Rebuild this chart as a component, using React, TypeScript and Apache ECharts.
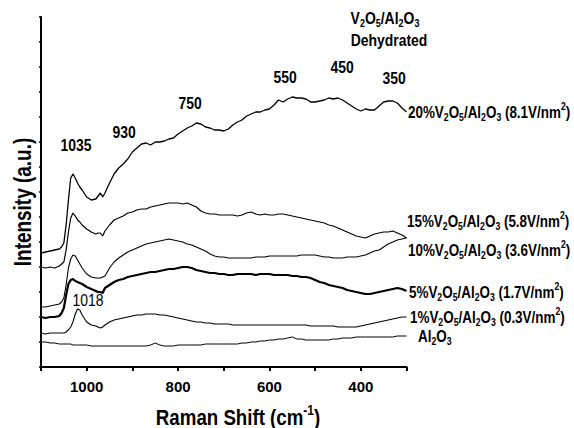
import React, { useEffect, useRef } from "react";
import * as echarts from "echarts";

// Raman shift grid (cm^-1)
const shifts = [
  1100, 1090, 1080, 1070, 1060, 1055, 1050, 1045, 1040, 1035, 1030, 1025, 1020, 1015, 1010,
  1000, 990, 980, 975, 970, 965, 960, 950, 940, 930, 920, 910, 900, 890, 880, 870, 860, 850,
  840, 830, 820, 810, 800, 790, 780, 770, 760, 750, 740, 730, 720, 710, 700, 690, 680, 670,
  660, 650, 640, 630, 620, 610, 600, 590, 580, 570, 560, 550, 540, 530, 520, 510, 500, 490,
  480, 470, 460, 450, 440, 430, 420, 410, 400, 390, 380, 370, 360, 350, 340, 330, 320, 310, 300,
];

// Intensities (stacked, arbitrary units)
const v20 = [
  114, 115, 116, 117, 118, 120, 124, 142, 167, 189, 193, 189, 184, 180, 177,
  170, 167, 168, 171, 174, 170, 174, 184, 193, 199, 203, 208, 215, 219, 223, 224, 222, 225,
  225, 226, 228, 229, 233, 236, 239, 241, 244, 243, 240, 239, 237, 237, 236, 238, 242, 245,
  247, 251, 253, 255, 255, 257, 258, 262, 267, 265, 268, 270, 269, 269, 268, 265, 265, 266,
  267, 269, 268, 269, 267, 264, 261, 258, 256, 258, 257, 257, 261, 265, 266, 266, 264, 259, 255,
];
const v15 = [
  100, 99, 100, 99, 101, 103, 105, 117, 135, 149, 154, 151, 147, 145, 142,
  138, 135, 133, 134, 134, 131, 136, 142, 147, 149, 151, 154, 155, 157, 158, 158, 160, 161,
  162, 163, 164, 164, 164, 163, 164, 162, 160, 156, 154, 153, 153, 152, 152, 152, 152, 151,
  152, 154, 155, 153, 152, 153, 152, 152, 153, 153, 152, 151, 150, 149, 148, 147, 146, 145,
  144, 142, 141, 139, 137, 135, 133, 131, 130, 129, 131, 133, 134, 135, 135, 136, 134, 132, 129,
];
const v10 = [
  60, 60, 61, 62, 63, 65, 69, 82, 99, 108, 112, 111, 107, 103, 99,
  93, 90, 89, 89, 89, 90, 91, 99, 105, 109, 112, 115, 117, 119, 121, 123, 124, 125,
  126, 127, 128, 127, 126, 125, 123, 122, 120, 118, 116, 113, 111, 110, 110, 109, 109, 109,
  109, 109, 109, 110, 110, 110, 111, 111, 111, 111, 111, 111, 111, 112, 112, 112, 112, 111,
  110, 110, 109, 109, 109, 110, 110, 110, 111, 112, 114, 116, 117, 120, 123, 125, 127, 128, 129,
];
const v5 = [
  50, 49, 50, 50, 51, 54, 59, 72, 83, 87, 88, 86, 85, 84, 83,
  80, 78, 76, 75, 75, 74, 79, 82, 85, 87, 88, 90, 91, 92, 93, 94, 95, 95,
  96, 97, 98, 98, 99, 100, 100, 99, 97, 96, 95, 94, 94, 93, 93, 92, 92, 93,
  93, 93, 93, 92, 93, 93, 93, 92, 92, 92, 92, 91, 91, 90, 90, 89, 87, 85,
  84, 82, 81, 80, 79, 77, 76, 75, 74, 73, 73, 74, 75, 76, 77, 78, 79, 78, 76,
];
const v1 = [
  34, 33, 34, 34, 34, 34, 34, 35, 37, 40, 45, 53, 58, 57, 52,
  45, 42, 41, 40, 39, 40, 42, 45, 47, 48, 49, 50, 51, 52, 52, 53, 53, 53,
  52, 52, 51, 50, 49, 48, 47, 46, 45, 45, 44, 44, 43, 43, 43, 43, 42, 42,
  42, 42, 42, 42, 42, 42, 42, 42, 42, 42, 42, 42, 42, 42, 42, 41, 41, 41,
  41, 41, 41, 40, 40, 40, 40, 40, 41, 42, 43, 44, 45, 46, 47, 48, 49, 50, 50,
];
const vAl = [
  25, 25, 24, 24, 23, 23, 23, 23, 23, 23, 22, 22, 22, 22, 22,
  22, 21, 21, 21, 21, 21, 21, 21, 21, 21, 21, 21, 21, 21, 21, 21, 22, 24,
  22, 21, 21, 21, 22, 22, 22, 22, 22, 22, 23, 23, 23, 23, 23, 23, 23, 23,
  24, 24, 25, 25, 26, 26, 27, 27, 28, 28, 29, 30, 28, 28, 27, 27, 27, 27,
  27, 27, 28, 28, 29, 29, 29, 30, 30, 30, 30, 30, 30, 30, 30, 30, 31, 31, 31,
];

const seriesNames = ["20%", "15%", "10%", "5%", "1%", "Al2O3"];
const seriesValues = [v20, v15, v10, v5, v1, vAl];
const seriesWidths = [1.3, 1.2, 1.1, 2.2, 1.1, 1];

const xTicks = [1000, 800, 600, 400];

const FONT = '"Liberation Sans", Arial, Helvetica, sans-serif';
const SQUEEZE = 0.82;

// convert "V_2O_5" / "nm^2" markup into ECharts rich text
function toRich(s: string): string {
  let out = "";
  let buf = "";
  const flush = () => {
    if (buf) out += "{m|" + buf + "}";
    buf = "";
  };
  for (let i = 0; i < s.length; i++) {
    const c = s[i];
    if ((c === "_" || c === "^") && i + 1 < s.length) {
      flush();
      let tok = s[i + 1];
      if (c === "^" && s[i + 1] === "-") {
        tok = "-" + s[i + 2];
        i++;
      }
      out += (c === "_" ? "{s|" : "{p|") + tok + "}";
      i++;
    } else {
      buf += c;
    }
  }
  flush();
  return out;
}

function richStyles(size: number, weight: string) {
  const sub = Math.round(size * 0.62);
  return {
    m: { fontSize: size, fontWeight: weight, fontFamily: FONT, fill: "#000", lineHeight: size + 5 },
    s: { fontSize: sub, fontWeight: weight, fontFamily: FONT, fill: "#000", lineHeight: sub, verticalAlign: "bottom" },
    p: { fontSize: sub, fontWeight: weight, fontFamily: FONT, fill: "#000", lineHeight: sub, verticalAlign: "top" },
  };
}

function txt(x: number, y: number, s: string, align = "center", size = 17, weight = "bold", rotation = 0, squeeze = SQUEEZE) {
  return {
    type: "text",
    x,
    y,
    rotation,
    scaleX: squeeze,
    silent: true,
    z: 100,
    style: {
      text: toRich(s),
      rich: richStyles(size, weight),
      align,
      verticalAlign: "middle",
      textAlign: align,
      textVerticalAlign: "middle",
      fill: "#000",
    },
  };
}

const peakLabels: [number, number, string][] = [
  [76, 145, "1035"],
  [124, 132, "930"],
  [190, 103, "750"],
  [285, 77, "550"],
  [342, 67, "450"],
  [394, 78, "350"],
];

const seriesLabels: [number, number, string][] = [
  [408, 112, "20%V_2O_5/Al_2O_3 (8.1V/nm^2)"],
  [407, 221, "15%V_2O_5/Al_2O_3 (5.8V/nm^2)"],
  [408, 250, "10%V_2O_5/Al_2O_3 (3.6V/nm^2)"],
  [409, 292, "5%V_2O_5/Al_2O_3 (1.7V/nm^2)"],
  [410, 317, "1%V_2O_5/Al_2O_3 (0.3V/nm^2)"],
  [418, 336, "Al_2O_3"],
];

export default function App() {
  const ref = useRef<HTMLDivElement>(null);
  useEffect(() => {
    if (!ref.current) return;
    const chart = echarts.init(ref.current, undefined, { renderer: "svg" });
    const graphics: any[] = [];
    peakLabels.forEach(([x, y, s]) => graphics.push(txt(x, y, s)));
    graphics.push(txt(88, 300, "1018", "center", 17, "normal"));
    seriesLabels.forEach(([x, y, s]) => graphics.push(txt(x, y, s, "left", 17, "bold", 0, 0.79)));
    graphics.push(txt(385, 18, "V_2O_5/Al_2O_3"));
    graphics.push(txt(389, 40, "Dehydrated"));
    graphics.push(txt(238, 417, "Raman Shift (cm^-1)", "center", 22, "bold", 0, 0.85));
    graphics.push(txt(23, 202, "Intensity (a.u.)", "center", 24, "bold", Math.PI / 2, 0.79));

    chart.setOption({
      animation: false,
      backgroundColor: "#fff",
      grid: { left: 41, right: 167.5, top: 17, bottom: 61, containLabel: false },
      xAxis: {
        type: "value",
        min: 300,
        max: 1100,
        interval: 100,
        inverse: true,
        axisLine: { lineStyle: { color: "#000", width: 2 } },
        axisTick: { inside: false, length: 4, lineStyle: { color: "#000", width: 2 } },
        splitLine: { show: false },
        axisLabel: {
          color: "#000",
          fontFamily: FONT,
          fontWeight: "bold",
          fontSize: 15,
          margin: 12,
          formatter: (v: number) => (xTicks.includes(v) ? String(v) : ""),
        },
      },
      yAxis: {
        type: "value",
        min: 0,
        max: 350,
        interval: 25,
        axisLine: { show: true, lineStyle: { color: "#000", width: 2 } },
        axisTick: { show: true, inside: false, length: 2, lineStyle: { color: "#000", width: 1.5 } },
        axisLabel: { show: false },
        splitLine: { show: false },
      },
      series: seriesValues.map((vals, i) => ({
        type: "line",
        name: seriesNames[i],
        data: shifts.map((s, j) => [s, vals[j]]),
        showSymbol: false,
        smooth: false,
        lineStyle: { color: "#000", width: seriesWidths[i] },
      })),
      graphic: graphics,
    });
    return () => chart.dispose();
  }, []);
  return <div ref={ref} style={{ width: 574, height: 428, position: "absolute", left: 0, top: 0 }} />;
}
